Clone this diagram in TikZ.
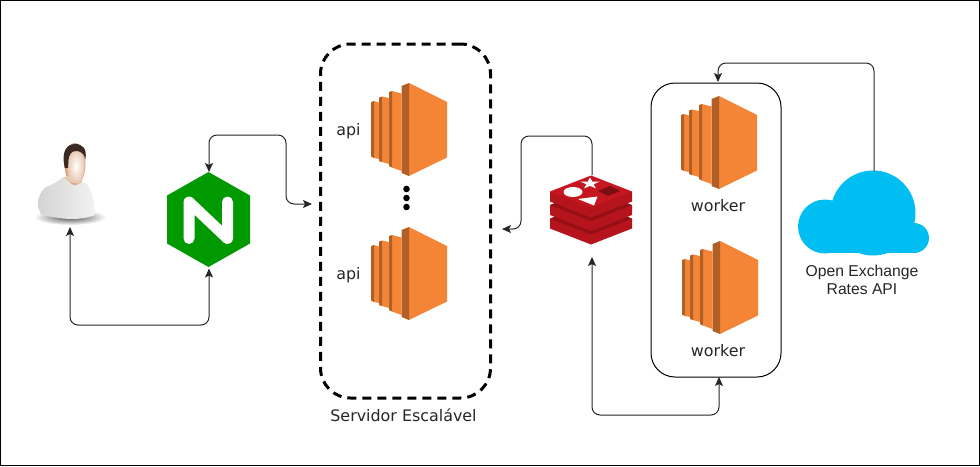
\documentclass[tikz,border=0pt]{standalone}
\usepackage{fontspec}
\setmainfont{DejaVu Sans}
\newfontfamily\arialfont{Liberation Sans}
\usetikzlibrary{arrows.meta,shapes.geometric}
\definecolor{ecLight}{HTML}{F58536}
\definecolor{ecDark}{HTML}{B05F27}
\definecolor{ngGreen}{HTML}{009900}
\definecolor{rdTop}{HTML}{C6161F}
\definecolor{rdSide}{HTML}{B5141C}
\definecolor{rdBand}{HTML}{930F15}
\definecolor{rdSquare}{HTML}{7A0F12}
\definecolor{cloudBlue}{HTML}{00BEF2}
\definecolor{skin}{HTML}{D9A27E}
\definecolor{hair}{HTML}{3A2A22}
\tikzset{
  link/.style={draw=black!85,line width=1pt,rounded corners=8pt},
  tipA/.style={-{Stealth[length=9pt,width=8pt,inset=2pt]}},
  tipB/.style={{Stealth[length=9pt,width=8pt,inset=2pt]}-{Stealth[length=9pt,width=8pt,inset=2pt]}},
  txt/.style={inner sep=0pt,font=\fontsize{15.9}{18}\selectfont,text=black!85},
  arial/.style={inner sep=0pt,font=\arialfont\fontsize{15.7}{18}\selectfont,text=black!85,align=center},
  pics/ectwo/.style={code={
    \fill[ecLight] (0,0) -- (38,19) -- (38,74.5) -- (0,93) -- cycle;
    \fill[ecDark] (0,0) -- (-7.5,3) -- (-7.5,90) -- (0,93) -- cycle;
    \fill[ecLight] (-17,8) -- (-7.5,10.5) -- (-7.5,88) -- (-17,84.5) -- cycle;
    \fill[ecDark] (-17,8) -- (-20,9) -- (-20,83) -- (-17,84.5) -- cycle;
    \fill[ecLight] (-27,13.5) -- (-20,15) -- (-20,81) -- (-27,79) -- cycle;
    \fill[ecDark] (-27,13.5) -- (-30,14.5) -- (-30,78) -- (-27,79) -- cycle;
    \fill[ecLight] (-35,18) -- (-30,19.5) -- (-30,76) -- (-35,75) -- cycle;
    \fill[ecDark] (-35,18) -- (-38,19) -- (-38,73.5) -- (-35,75) -- cycle;
  }},
  pics/rdlayer/.style={code={
    \fill[rdSide] (-41,16) -- (-41,26) -- (0,42) -- (41,26) -- (41,16) -- cycle;
    \fill[#1] (0,0) -- (41,16) -- (0,32) -- (-41,16) -- cycle;
  }}
}
\begin{document}
\begin{tikzpicture}[x=1pt,y=-1pt]
\useasboundingbox (0,0) rectangle (980,466);
\draw[black,line width=1pt] (0.5,0.5) rectangle (979.5,465.5);

% containers
\node[draw=black,line width=3pt,dash pattern=on 9pt off 6pt,rounded corners=30pt,inner sep=0pt,
  minimum width=170pt,minimum height=354pt] (scalable) at (405.5,221) {};
\node[draw=black,line width=1pt,rounded corners=24pt,inner sep=0pt,
  minimum width=130pt,minimum height=294pt] (workers) at (716,230) {};

% user
\shade[inner color=black!70,outer color=white] (70,217) ellipse (36 and 8);
\shade[left color=black!17,right color=black!5]
  (38,207) .. controls (38,198) and (40,191) .. (46,187)
  .. controls (54,184) and (60,180) .. (63,177)
  .. controls (70,182) and (78,184) .. (85,183)
  .. controls (90,186) and (94,195) .. (95,215)
  .. controls (85,219) and (70,220) .. (60,218)
  .. controls (52,217) and (44,216) .. (41,214) -- cycle;
\shade[inner color=white,outer color=skin] (75,164) ellipse (10.5 and 21);
\fill[skin!60!white] (68,176) -- (81,176) -- (82,183) .. controls (76,185) and (68,182) .. (63.5,177.5) -- cycle;
\shade[inner color=white,outer color=skin!60!white] (76,166) ellipse (8.5 and 17);
\fill[hair] (65,168) .. controls (62,158) and (63,144) .. (75,144)
  .. controls (83,144) and (87,149) .. (85.5,159)
  .. controls (84,153) and (80,151) .. (76,151)
  .. controls (71,151) and (69,155) .. (68.5,160)
  -- (68,168) -- cycle;

% nginx
\fill[ngGreen] (208.5,172) -- (250,195.5) -- (250,243.5) -- (208.5,267) -- (167,243.5) -- (167,195.5) -- cycle;
\draw[white,line width=11pt,line join=round,line cap=round] (189,238.5) -- (189,202) -- (227.5,238.5) -- (227.5,202);

% EC2
\pic at (409,83) {ectwo};
\pic at (409,227) {ectwo};
\pic at (719,96) {ectwo};
\pic at (720,241) {ectwo};

\node[txt] (api1) at (348.5,131.5) {api};
\node[txt] (api2) at (348.5,275.5) {api};
\node[txt] (worker1) at (718,206) {worker};
\node[txt] (worker2) at (718,351) {worker};
\node[txt] (title) at (403.5,415.5) {Servidor Escalável};
\node[arial] (apilabel) at (862,280) {Open Exchange\\[0.5pt]Rates API};

\foreach \n/\yy in {a/189,b/198,c/207}{
  \node[circle,fill=black,inner sep=0pt,minimum size=6.6pt] (dot\n) at (406.5,\yy) {};
}

% redis
\pic at (591,202.5) {rdlayer=rdBand};
\pic at (591,189) {rdlayer=rdBand};
\pic at (591,175.5) {rdlayer=rdTop};
\fill[white] (573,192) ellipse (9.5 and 5);
\fill[white] (578,199) -- (597.5,196.5) -- (594,205.5) -- cycle;
\fill[rdSquare] (598,191) -- (610,186) -- (620,191) -- (608,196) -- cycle;
\fill[white] plot[samples at={0,1,...,9},variable=\k]
  ({590+(mod(\k,2)==0?10:3.8)*sin(36*\k)},{183.5-(mod(\k,2)==0?6:2.4)*cos(36*\k)}) -- cycle;

% cloud
\fill[cloudBlue] (873,213) circle (42.5);
\fill[cloudBlue] (825,226.5) circle (27);
\fill[cloudBlue] (914,238) circle (15);
\fill[cloudBlue] (825,220) rectangle (914,253.2);

% junction coordinates
\coordinate (scaleIn) at (312,204);
\coordinate (scaleOut) at (502,229);
\coordinate (redisIn) at (592,257);
\coordinate (workersBottom) at (719,377);
\coordinate (workersTop) at (718,82);
\coordinate (userIn) at (70,227);
\coordinate (nginxIn) at (209,268.5);
\coordinate (nginxTop) at (209,172);
\coordinate (redisTop) at (592,175);
\coordinate (cloudTop) at (874,171);

% connectors
\draw[link,tipB] (userIn) -- (70,325) -- (209,325) -- (nginxIn);
\draw[link,tipB] (nginxTop) -- (209,135) -- (286,135) -- (286,204) -- (scaleIn);
\draw[link,tipA] (redisTop) -- (592,136) -- (521,136) -- (521,229) -- (scaleOut);
\draw[link,tipB] (redisIn) -- (592,415) -- (719,415) -- (workersBottom);
\draw[link,tipA] (cloudTop) -- (874,63) -- (718,63) -- (workersTop);
\end{tikzpicture}
\end{document}
